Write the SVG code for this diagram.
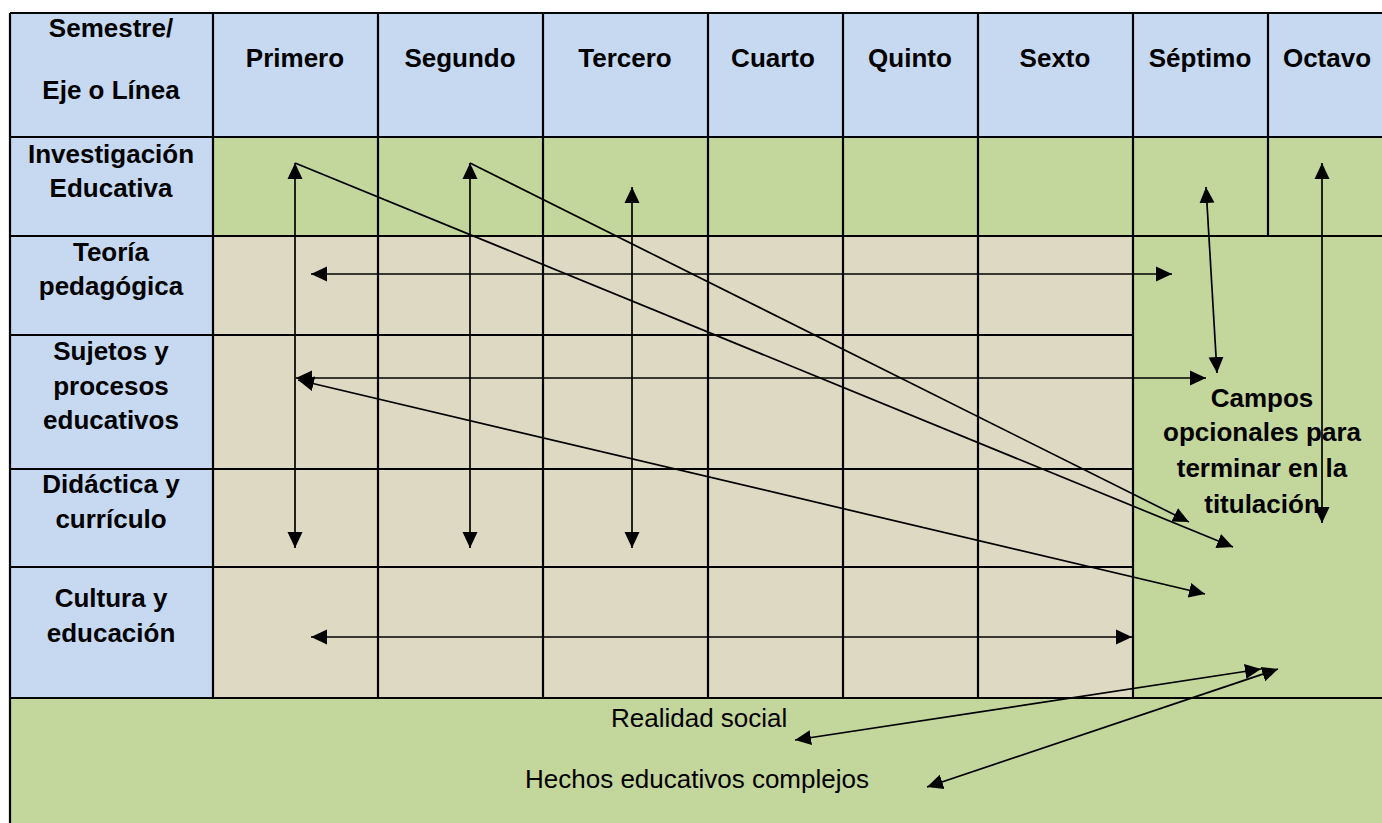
<svg xmlns="http://www.w3.org/2000/svg" width="1382" height="823" viewBox="0 0 1382 823">
<style>
.blue{fill:#C6D9F1}
.green{fill:#C3D69B}
.tan{fill:#DDD9C3}
.grid{stroke:#000;stroke-width:2.2;fill:none}
.h{font-family:"Liberation Sans",Arial,sans-serif;font-weight:bold;font-size:26px;fill:#000;text-anchor:middle}
.n{font-family:"Liberation Sans",Arial,sans-serif;font-size:26px;fill:#000}
.arr{stroke:#000;stroke-width:1.7;fill:none}
</style>
<defs>
<marker id="ah" markerUnits="userSpaceOnUse" markerWidth="17" markerHeight="16" refX="16" refY="8" orient="auto-start-reverse" viewBox="0 0 17 16">
<path d="M0,0.5 L16,8 L0,15.5 Z" fill="#000"/>
</marker>
</defs>
<rect width="1382" height="823" fill="#fff"/>
<g id="backgrounds">
<rect class="blue" x="10" y="13" width="1372" height="124"/>
<rect class="blue" x="10" y="137" width="203" height="561"/>
<rect class="green" x="213" y="137" width="1169" height="99"/>
<rect class="green" x="1133" y="236" width="249" height="462"/>
<rect class="tan" x="213" y="236" width="920" height="462"/>
<rect class="green" x="10" y="698" width="1372" height="125"/>
</g>
<g id="grid" class="grid">
<path d="M10,13 H1382 M10,137 H1382 M10,236 H1382 M10,335 H1133 M10,469 H1133 M10,567 H1133 M10,698 H1382"/>
<path d="M10,13 V823 M213,13 V698 M378,13 V698 M543,13 V698 M708,13 V698 M843,13 V698 M978,13 V698 M1133,13 V698 M1268,13 V236"/>
</g>
<g id="header-corner"><text class="h" x="111" y="37">Semestre/</text><text class="h" x="111" y="99">Eje o Línea</text></g>
<g id="col-primero"><text class="h" x="295" y="67">Primero</text></g>
<g id="col-segundo"><text class="h" x="460" y="67">Segundo</text></g>
<g id="col-tercero"><text class="h" x="625" y="67">Tercero</text></g>
<g id="col-cuarto"><text class="h" x="773" y="67">Cuarto</text></g>
<g id="col-quinto"><text class="h" x="910" y="67">Quinto</text></g>
<g id="col-sexto"><text class="h" x="1055" y="67">Sexto</text></g>
<g id="col-septimo"><text class="h" x="1200" y="67">Séptimo</text></g>
<g id="col-octavo"><text class="h" x="1327" y="67">Octavo</text></g>
<g id="row-investigacion"><text class="h" x="111" y="163">Investigación</text><text class="h" x="111" y="197">Educativa</text></g>
<g id="row-teoria"><text class="h" x="111" y="261">Teoría</text><text class="h" x="111" y="295">pedagógica</text></g>
<g id="row-sujetos"><text class="h" x="111" y="360">Sujetos y</text><text class="h" x="111" y="395">procesos</text><text class="h" x="111" y="429">educativos</text></g>
<g id="row-didactica"><text class="h" x="111" y="493">Didáctica y</text><text class="h" x="111" y="528">currículo</text></g>
<g id="row-cultura"><text class="h" x="111" y="607">Cultura y</text><text class="h" x="111" y="642">educación</text></g>
<g id="campos"><text class="h" x="1262" y="407">Campos</text><text class="h" x="1262" y="441">opcionales para</text><text class="h" x="1262" y="477">terminar en la</text><text class="h" x="1262" y="513">titulación</text></g>
<g id="realidad"><text class="n" x="611" y="727">Realidad social</text></g>
<g id="hechos"><text class="n" x="525" y="788">Hechos educativos complejos</text></g>
<g id="connectors" class="arr">
<line x1="295" y1="163" x2="295" y2="548" marker-start="url(#ah)" marker-end="url(#ah)"/>
<line x1="470" y1="163" x2="470" y2="548" marker-start="url(#ah)" marker-end="url(#ah)"/>
<line x1="632" y1="187" x2="632" y2="548" marker-start="url(#ah)" marker-end="url(#ah)"/>
<line x1="295" y1="163" x2="1233" y2="547" marker-end="url(#ah)"/>
<line x1="470" y1="163" x2="1189" y2="522" marker-end="url(#ah)"/>
<line x1="311" y1="274" x2="1172" y2="274" marker-start="url(#ah)" marker-end="url(#ah)"/>
<line x1="296" y1="378" x2="1206" y2="378" marker-start="url(#ah)" marker-end="url(#ah)"/>
<line x1="298" y1="380" x2="1205" y2="594" marker-start="url(#ah)" marker-end="url(#ah)"/>
<line x1="311" y1="637" x2="1132" y2="637" marker-start="url(#ah)" marker-end="url(#ah)"/>
<line x1="1206" y1="187" x2="1217" y2="373" marker-start="url(#ah)" marker-end="url(#ah)"/>
<line x1="1322" y1="163" x2="1322" y2="523" marker-start="url(#ah)" marker-end="url(#ah)"/>
<line x1="795" y1="740" x2="1261" y2="669" marker-start="url(#ah)" marker-end="url(#ah)"/>
<line x1="927" y1="787" x2="1278" y2="669" marker-start="url(#ah)" marker-end="url(#ah)"/>
</g>
</svg>
